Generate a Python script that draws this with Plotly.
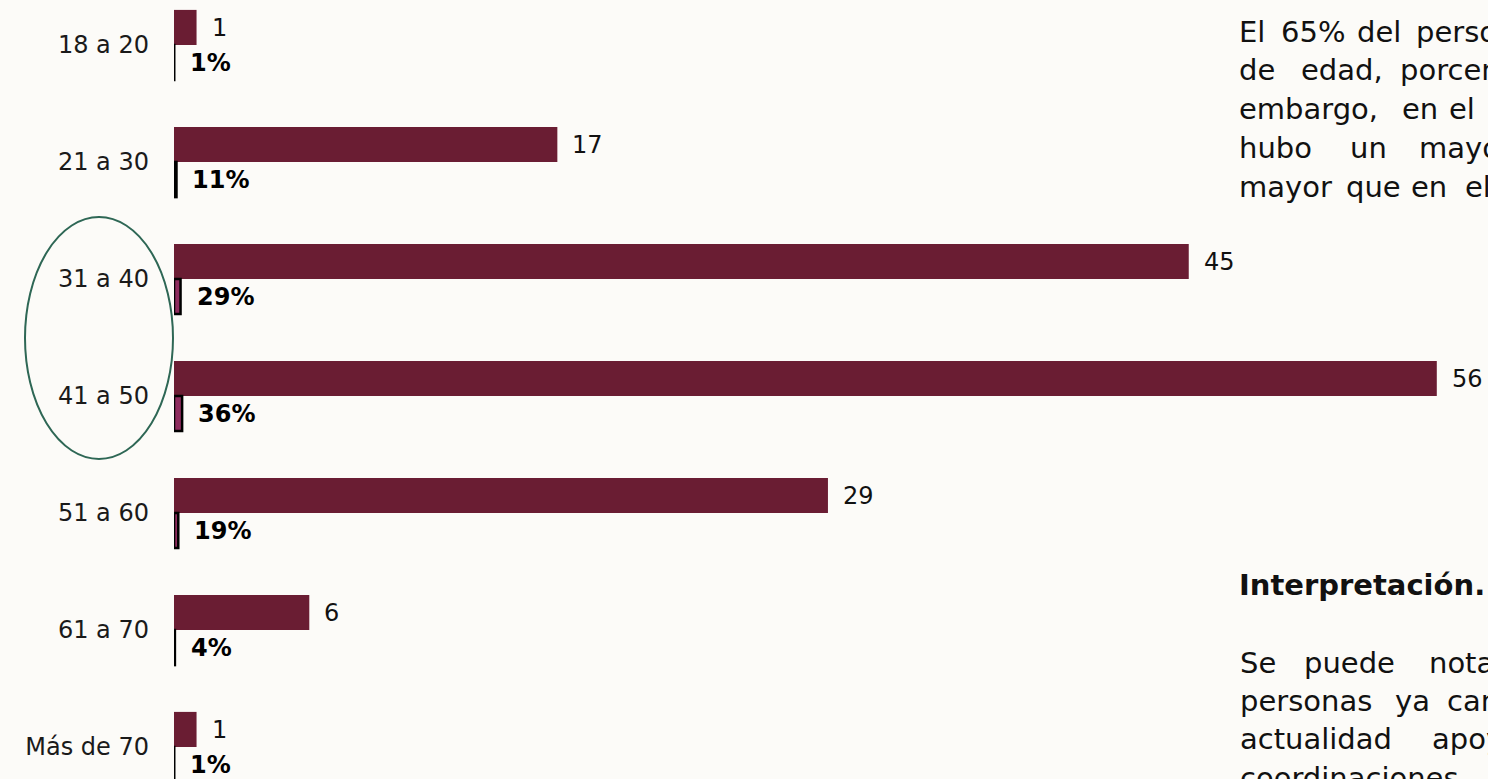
import plotly.graph_objects as go

# ---- data ----
categories = ["18 a 20", "21 a 30", "31 a 40", "41 a 50", "51 a 60", "61 a 70", "Más de 70"]
counts = [1, 17, 45, 56, 29, 6, 1]
percents = [1, 11, 29, 36, 19, 4, 1]
pct_labels = [f"{p}%" for p in percents]
pct_values = [p / 100 for p in percents]

FONT = "DejaVu Sans"
W, H = 1488, 779
ML = 174
PX_PER_UNIT = 22.55
XMAX = (W - ML) / PX_PER_UNIT
STEP = 117.0
C0 = 45.0

fig = go.Figure()
fig.add_trace(go.Bar(
    y=categories, x=counts, orientation="h", name="Personas",
    marker=dict(color="#6A1D33", line=dict(width=0)),
    hoverinfo="skip",
))
fig.add_trace(go.Bar(
    y=categories, x=pct_values, orientation="h", name="Porcentaje",
    marker=dict(color="#8E2C5E", line=dict(color="#000000", width=2.5)),
    hoverinfo="skip",
))

annotations = []
for c, v in zip(categories, counts):
    annotations.append(dict(
        x=v, y=c, xref="x", yref="y", text=str(v), showarrow=False,
        xanchor="left", yanchor="middle", xshift=13, yshift=17,
        font=dict(family=FONT, size=24, color="#111111"),
    ))
for c, v, t in zip(categories, pct_values, pct_labels):
    annotations.append(dict(
        x=v, y=c, xref="x", yref="y", text=f"<b>{t}</b>", showarrow=False,
        xanchor="left", yanchor="middle", xshift=14, yshift=-18,
        font=dict(family=FONT, size=24, color="#000000"),
    ))

# right-hand commentary text (clipped at the page edge, as in the original)
right_words = [
    (32, [(1237, "El"), (1279, "65%"), (1355, "del"), (1414, "personal")]),
    (70, [(1237, "de"), (1299, "edad,"), (1398, "porcentaje")]),
    (109, [(1237, "embargo,"), (1400, "en"), (1447, "el")]),
    (148, [(1237, "hubo"), (1348, "un"), (1417, "mayor")]),
    (187, [(1237, "mayor"), (1344, "que"), (1409, "en"), (1463, "el")]),
    (663, [(1238, "Se"), (1302, "puede"), (1427, "notar")]),
    (701, [(1238, "personas"), (1393, "ya"), (1445, "cambiaron")]),
    (739, [(1238, "actualidad"), (1430, "apoyan")]),
    (778, [(1238, "coordinaciones")]),
]
for ypx, words in right_words:
    for xpx, w in words:
        annotations.append(dict(
            x=xpx / W, y=1 - ypx / H, xref="paper", yref="paper",
            text=w, showarrow=False, xanchor="left", yanchor="middle",
            font=dict(family=FONT, size=29, color="#111111"),
        ))
annotations.append(dict(
    x=1237 / W, y=1 - 585 / H, xref="paper", yref="paper",
    text="<b>Interpretación.</b>", showarrow=False, xanchor="left", yanchor="middle",
    font=dict(family=FONT, size=29, color="#111111"),
))

# paper x is relative to the plot area
PW = W - ML
for a in annotations:
    if a["xref"] == "paper":
        a["x"] = (a["x"] * W - ML) / PW

fig.update_layout(
    width=W, height=H,
    margin=dict(l=ML, r=0, t=0, b=0),
    paper_bgcolor="#FCFBF8", plot_bgcolor="rgba(0,0,0,0)",
    barmode="group", bargap=0.4, bargroupgap=0,
    showlegend=False,
    xaxis=dict(range=[0, XMAX], showgrid=False, zeroline=False,
               showticklabels=False, showline=False, fixedrange=True),
    yaxis=dict(type="category", categoryorder="array", categoryarray=categories,
               range=[(H - C0) / STEP, -C0 / STEP],
               showgrid=False, zeroline=False, showline=False,
               ticks="", ticklabelstandoff=24,
               tickfont=dict(family=FONT, size=24, color="#1a1a1a"), fixedrange=True),
    annotations=annotations,
    shapes=[dict(
        type="circle", xref="paper", yref="paper",
        x0=(25 - ML) / PW, x1=(173 - ML) / PW,
        y0=1 - 459 / H, y1=1 - 217 / H,
        line=dict(color="#2E6755", width=2), layer="above",
    )],
)

fig.write_html("out.html")
